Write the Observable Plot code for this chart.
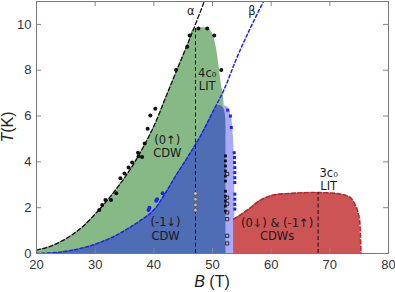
<!DOCTYPE html>
<html><head><meta charset="utf-8">
<script src="https://cdn.jsdelivr.net/npm/d3@7"></script>
<script src="https://cdn.jsdelivr.net/npm/@observablehq/plot@0.6"></script>
<style>body{margin:0;background:#fff}</style>
</head><body><div id="chart"></div>
<script>
// Axis ticks
const xTicks = [20, 30, 40, 50, 60, 70, 80];
const yTicks = [0, 2, 4, 6, 8, 10];

// Phase boundary α (black dashed)
const alphaB = [20, 22, 24, 26, 28, 30, 32, 34, 36, 38, 40, 42, 44, 46, 48, 48.6];
const alphaT = [0.15, 0.28, 0.5, 0.8, 1.2, 1.72, 2.3, 2.95, 3.68, 4.55, 5.55, 6.8, 8.05, 9.3, 10.6, 11];
// Phase boundary β (blue dashed)
const betaB = [20, 24, 28, 32, 36, 40, 42, 44, 46, 48, 50, 52, 54, 56, 58, 59];
const betaT = [0, 0.06, 0.25, 0.6, 1.15, 1.9, 2.65, 3.5, 4.3, 5.15, 6.15, 7.17, 8.45, 9.6, 10.65, 11.15];

// 4c0 LIT dome (green), top and right edge
const domeB = [46.7, 47.5, 48.5, 49.4, 50.0, 50.6, 51.1, 51.5, 51.85, 52.0];
const domeT = [9.78, 9.84, 9.85, 9.8, 9.6, 9.05, 8.2, 7.4, 6.9, 6.4];
// (-1↓) CDW dark-blue region cap
const blueCapB = [50.0, 50.5, 51.0, 51.6, 52.0, 52.25, 52.3];
const blueCapT = [6.15, 6.4, 6.46, 6.44, 6.28, 5.9, 5.0];
// light-blue band
const lightB = [51.2, 52.0, 52.7, 53.2, 53.5, 53.7, 53.8];
const lightT = [6.46, 6.46, 6.35, 6.0, 5.3, 4.4, 3.0];
// 3c0 LIT dome (red)
const redB = [53.6, 54.5, 56.5, 58.2, 60.4, 63.8, 67.8, 71.8, 73.5, 74.4, 75.0, 75.2, 75.3];
const redT = [1.5, 1.64, 2.0, 2.33, 2.55, 2.63, 2.66, 2.59, 2.44, 2.08, 1.57, 0.85, 0];

// Measured points
const blackDotB = [30.7, 31.2, 31.75, 32.7, 33.6, 34.3, 35.0, 35.7, 36.3, 37.3, 37.4, 38.0, 38.45, 38.95, 39.4, 40.25, 43.8, 45.7, 46.1, 47.6, 49.1, 50.3, 51.5];
const blackDotT = [1.9, 2.12, 2.33, 2.34, 2.63, 3.29, 3.49, 3.75, 3.97, 4.4, 4.24, 4.21, 4.8, 5.45, 6.02, 6.32, 8.01, 9.03, 9.52, 9.82, 9.82, 9.52, 8.01];
const blueDotB = [39.1, 39.25, 40.4, 40.55, 41.5];
const blueDotT = [1.9, 2.0, 2.3, 2.37, 2.63];
const blueSqB = [52.6, 53.05, 53.2, 53.7, 53.75, 53.75, 53.8, 53.8, 53.8, 53.8, 53.8, 53.8, 53.8, 53.8];
const blueSqT = [6.26, 6.0, 5.5, 4.4, 4.19, 3.97, 3.75, 3.53, 3.31, 3.1, 2.59, 2.37, 2.15, 1.94];
const blackSqB = [52.2, 52.2, 52.2, 52.2, 52.2, 52.2, 52.2, 52.2, 52.2, 52.2, 52.2];
const blackSqT = [4.26, 4.04, 3.82, 3.6, 3.38, 3.16, 2.72, 2.5, 2.29, 2.07, 1.85];
const openSqB = [52.5, 52.5, 52.5, 52.5, 52.5, 52.5, 52.5];
const openSqT = [3.47, 2.44, 2.17, 1.79, 1.5, 0.77, 0.44];
const greyCircB = [47.1, 47.1, 47.1, 47.1];
const greyCircT = [2.62, 2.37, 2.12, 1.89];

// Vertical dashed LIT lines
const litB = [47.1, 68.0];
const litTop = [9.83, 2.66];

// Annotations
const labels = ["α", "β", "4c₀\nLIT", "(0↑)\nCDW", "(-1↓)\nCDW", "(0↓) & (-1↑)\nCDWs", "3c₀\nLIT"];
const labelB = [46.3, 56.7, 49.1, 42.3, 42.0, 61.0, 69.8];
const labelT = [10.6, 10.6, 7.6, 4.68, 1.08, 1.06, 3.24];

const pts = (bs, ts) => bs.map((b, i) => ({B: b, T: ts[i]}));

const alpha = pts(alphaB, alphaT);
const beta = pts(betaB, betaT);
const greenTop = [...alpha.filter(d => d.B <= 46), ...pts(domeB, domeT)];
const betaLow = beta.filter(d => d.B <= 50);
const cap = pts(blueCapB, blueCapT);
const light = pts(lightB, lightT);
const red = pts(redB, redT);
const lit = litB.map((b, i) => ({B: b, top: litTop[i]}));
const ann = labels.map((t, i) => ({text: t, B: labelB[i], T: labelT[i]}));

const W = 395, H = 292, mL = 36, mR = 7, mT = 1, mB = 39;
const pw = W - mL - mR, ph = H - mT - mB, tk = 5;
const cr = "catmull-rom";

const chart = Plot.plot({
  width: W, height: H,
  marginLeft: mL, marginRight: mR, marginTop: mT, marginBottom: mB,
  style: {fontFamily: "Liberation Sans, Arial, sans-serif", fontSize: "12.5px", color: "#333", background: "#fff"},
  x: {domain: [20, 80], ticks: xTicks},
  y: {domain: [0, 11], ticks: yTicks},
  marks: [
    Plot.areaY(greenTop, {x: "B", y: "T", fill: "#86b986", curve: cr}),
    Plot.areaY(light, {x: "B", y: "T", fill: "#aaaaf8", curve: cr}),
    Plot.areaY(betaLow, {x: "B", y: "T", fill: "#4e6db4", curve: cr}),
    Plot.areaY(cap, {x: "B", y: "T", fill: "#4e6db4", curve: cr}),
    Plot.areaY(red, {x: "B", y: "T", fill: "#cc5454", curve: cr}),
    Plot.line(red, {x: "B", y: "T", stroke: "#c8202a", strokeWidth: 1.6, strokeDasharray: "4,2.5", curve: cr}),
    Plot.line(alpha, {x: "B", y: "T", stroke: "#111", strokeWidth: 1.3, strokeDasharray: "4,2.5", curve: cr, clip: true}),
    Plot.line(beta, {x: "B", y: "T", stroke: "#1f1fff", strokeWidth: 1.5, strokeDasharray: "3,2.5", curve: cr, clip: true}),
    Plot.ruleX(lit, {x: "B", y1: 0, y2: "top", stroke: "#111", strokeWidth: 1, strokeDasharray: "4,2.5"}),
    Plot.dot(pts(blueDotB, blueDotT), {x: "B", y: "T", r: 2, fill: "#1f1fff", stroke: "none"}),
    Plot.dot(pts(blackDotB, blackDotT), {x: "B", y: "T", r: 2, fill: "#111", stroke: "none"}),
    Plot.dot(pts(blueSqB, blueSqT), {x: "B", y: "T", r: 1.7, symbol: "square", fill: "#1f1fff", stroke: "none"}),
    Plot.dot(pts(blackSqB, blackSqT), {x: "B", y: "T", r: 1.6, symbol: "square", fill: "#111", stroke: "none"}),
    Plot.dot(pts(openSqB, openSqT), {x: "B", y: "T", r: 1.8, symbol: "square", fill: "none", stroke: "#222", strokeWidth: 0.9}),
    Plot.dot(pts(greyCircB, greyCircT), {x: "B", y: "T", r: 1.8, fill: "#c8bfa8", stroke: "#555", strokeWidth: 0.7}),
    Plot.text(ann, {x: "B", y: "T", text: "text", fontSize: 11.5, fill: "#1a1a1a", lineHeight: 1.15, fontFamily: "DejaVu Sans, sans-serif"}),
    // inward ticks on all four sides
    Plot.tickX(xTicks, {x: d => d, insetTop: ph - tk, stroke: "#888"}),
    Plot.tickX(xTicks, {x: d => d, insetBottom: ph - tk, stroke: "#888"}),
    Plot.tickY(yTicks, {y: d => d, insetRight: pw - tk, stroke: "#888"}),
    Plot.tickY(yTicks, {y: d => d, insetLeft: pw - tk, stroke: "#888"}),
    Plot.axisX(xTicks, {anchor: "bottom", tickSize: 0, tickPadding: 6, label: null, fontSize: 13}),
    Plot.axisY(yTicks, {anchor: "left", tickSize: 0, tickPadding: 5, label: null, fontSize: 13}),
    Plot.frame({stroke: "#777"})
  ]
});

const svg = d3.select(chart);
const xl = svg.append("text").attr("x", mL + pw / 2).attr("y", 287).attr("text-anchor", "middle")
  .attr("font-family", "Liberation Sans, Arial, sans-serif").attr("font-size", 16).attr("fill", "#222");
xl.append("tspan").attr("font-style", "italic").text("B");
xl.append("tspan").text(" (T)");
const yl = svg.append("text").attr("transform", `translate(13,${mT + ph / 2}) rotate(-90)`).attr("text-anchor", "middle")
  .attr("font-family", "Liberation Sans, Arial, sans-serif").attr("font-size", 16).attr("fill", "#222");
yl.append("tspan").attr("font-style", "italic").text("T");
yl.append("tspan").text("(K)");

document.getElementById("chart").appendChild(chart);
</script>
</body></html>
